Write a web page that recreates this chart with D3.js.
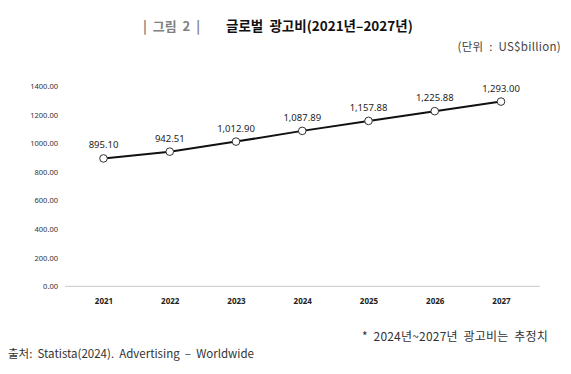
<!DOCTYPE html>
<html>
<head>
<meta charset="utf-8">
<script src="https://cdn.jsdelivr.net/npm/d3@7"></script>
<style>
  body { margin: 0; background: #fff; }
  text { font-family: "Noto Sans CJK KR", "Noto Sans", sans-serif; }
</style>
</head>
<body>
<div id="chart"></div>
<script>
// chart data
const years = ["2021", "2022", "2023", "2024", "2025", "2026", "2027"];
const adSpend = [895.10, 942.51, 1012.90, 1087.89, 1157.88, 1225.88, 1293.00];
const yTicks = [0, 200, 400, 600, 800, 1000, 1200, 1400];

const W = 571, H = 374;

const svg = d3.select("#chart")
  .append("svg")
    .attr("width", W)
    .attr("height", H);

// scales
const x = d3.scalePoint()
  .domain(years)
  .range([103.5, 501]);

const y = d3.scaleLinear()
  .domain([0, 1400])
  .range([286.3, 86.3]);

// title
svg.append("text")
  .attr("x", 143).attr("y", 31)
  .attr("font-size", 13).attr("font-weight", 700)
  .attr("fill", "#808080")
  .attr("xml:space", "preserve")
  .text("|  그림  2  |");

svg.append("text")
  .attr("x", 226).attr("y", 31)
  .attr("font-size", 13.5).attr("font-weight", 700)
  .attr("fill", "#111")
  .attr("xml:space", "preserve")
  .text("글로벌  광고비(2021년–2027년)");

svg.append("text")
  .attr("x", 561).attr("y", 51)
  .attr("text-anchor", "end")
  .attr("font-size", 11.5)
  .attr("letter-spacing", 0.3)
  .attr("fill", "#444")
  .attr("xml:space", "preserve")
  .text("(단위  :  US$billion)");

// baseline
svg.append("line")
  .attr("x1", 65).attr("x2", 540)
  .attr("y1", y(0)).attr("y2", y(0))
  .attr("stroke", "#c8c8c8").attr("stroke-width", 1);

// y axis labels
const yAxis = svg.append("g")
  .attr("transform", "translate(58,0)")
  .call(d3.axisLeft(y).tickValues(yTicks).tickFormat(d3.format(".2f")).tickSize(0).tickPadding(0));
yAxis.select(".domain").remove();
yAxis.selectAll("text")
  .attr("font-size", 7.5)
  .attr("fill", "#333")
  .style("font-family", "'Noto Sans', sans-serif");

// x axis labels
const xAxis = svg.append("g")
  .attr("transform", `translate(0,${y(0)})`)
  .call(d3.axisBottom(x).tickSize(0).tickPadding(12));
xAxis.select(".domain").remove();
xAxis.selectAll("text")
  .attr("font-size", 8)
  .attr("font-weight", 700)
  .attr("fill", "#222")
  .style("font-family", "'Noto Sans', sans-serif");

const data = years.map((yr, i) => ({ year: yr, value: adSpend[i] }));

// line
const line = d3.line()
  .x(d => x(d.year))
  .y(d => y(d.value));

svg.append("path")
  .datum(data)
  .attr("d", line)
  .attr("fill", "none")
  .attr("stroke", "#111")
  .attr("stroke-width", 2);

// markers
svg.append("g")
  .selectAll("circle")
  .data(data)
  .join("circle")
    .attr("cx", d => x(d.year))
    .attr("cy", d => y(d.value))
    .attr("r", 3.8)
    .attr("fill", "#fff")
    .attr("stroke", "#333")
    .attr("stroke-width", 1);

// value labels
svg.append("g")
  .selectAll("text")
  .data(data)
  .join("text")
    .attr("x", d => x(d.year))
    .attr("y", d => y(d.value) - 10)
    .attr("text-anchor", "middle")
    .attr("font-size", 9.5)
    .attr("fill", "#222")
    .style("font-family", "'Noto Sans', sans-serif")
    .text(d => d3.format(",.2f")(d.value));

// footnotes
svg.append("text")
  .attr("x", 548).attr("y", 341)
  .attr("text-anchor", "end")
  .attr("font-size", 12)
  .attr("letter-spacing", 0.2)
  .attr("fill", "#333")
  .attr("xml:space", "preserve")
  .text("*  2024년~2027년  광고비는  추정치");

svg.append("text")
  .attr("x", 8).attr("y", 358)
  .attr("font-size", 11.5)
  .attr("fill", "#333")
  .attr("xml:space", "preserve")
  .text("출처:  Statista(2024).  Advertising  –  Worldwide");
</script>
</body>
</html>
